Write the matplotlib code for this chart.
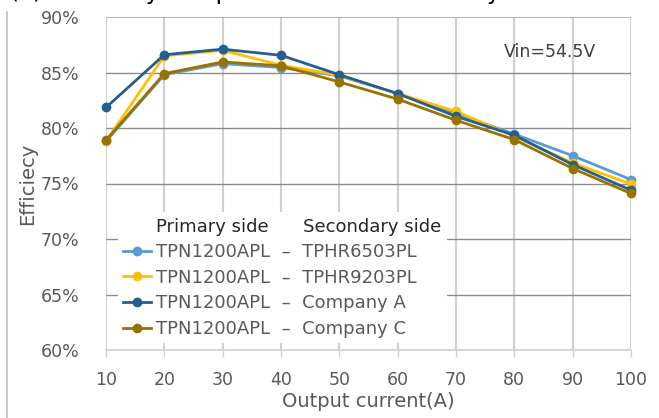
import matplotlib.pyplot as plt
from matplotlib.lines import Line2D
from matplotlib.ticker import FuncFormatter

plt.rcParams["font.family"] = ["DejaVu Sans"]

# Output current (A)
current = [10, 20, 30, 40, 50, 60, 70, 80, 90, 100]

# Efficiency (%) per secondary-side device
eff_tphr6503 = [78.8, 84.8, 85.8, 85.45, 84.7, 83.1, 81.3, 79.45, 77.5, 75.35]
eff_tphr9203 = [78.8, 86.5, 87.0, 85.65, 84.75, 83.1, 81.5, 79.25, 76.85, 74.95]
eff_company_a = [81.85, 86.6, 87.1, 86.55, 84.8, 83.1, 81.05, 79.35, 76.7, 74.4]
eff_company_c = [78.9, 84.9, 85.95, 85.6, 84.15, 82.6, 80.7, 78.95, 76.35, 74.1]

series_labels = ["TPN1200APL  \u2013  TPHR6503PL",
                 "TPN1200APL  \u2013  TPHR9203PL",
                 "TPN1200APL  \u2013  Company A",
                 "TPN1200APL  \u2013  Company C"]
colors = ["#5B9BD5", "#FFC000", "#255E91", "#997300"]

text_gray = "#595959"

fig = plt.figure(figsize=(6.59, 4.18), dpi=100)
ax = fig.add_axes([106 / 659, 1 - 350 / 418, 525 / 659, 333 / 418])

all_series = [eff_tphr6503, eff_tphr9203, eff_company_a, eff_company_c]
for vals, lab, c in zip(all_series, series_labels, colors):
    ax.plot(current, vals, color=c, lw=2, marker="o", markersize=6,
            label=lab, clip_on=False, zorder=3)

ax.set_xlim(10, 100)
ax.set_ylim(60, 90)
ax.set_xticks(current)
ax.set_yticks([60, 65, 70, 75, 80, 85, 90])
ax.yaxis.set_major_formatter(FuncFormatter(lambda v, p: "%d%%" % v))

# gridlines
for yv in [65, 70, 75, 80, 85]:
    ax.axhline(yv, color="#8C8C8C", lw=1, zorder=1)
ax.axhline(90, color="#A6A6A6", lw=1.2, zorder=1)
for xv in current:
    ax.axvline(xv, color="#D0D0D0", lw=1.5, zorder=0.5)

for s in ["top", "right", "left"]:
    ax.spines[s].set_visible(False)
ax.spines["bottom"].set_color("#D0D0D0")
ax.spines["bottom"].set_linewidth(1.2)

ax.tick_params(axis="y", length=0, pad=19, labelsize=12.5, labelcolor=text_gray)
ax.tick_params(axis="x", length=5, width=1, color="#D0D0D0", pad=10,
               labelsize=12.5, labelcolor=text_gray)

ax.set_xlabel("Output current(A)", fontsize=14, color=text_gray, labelpad=2)
ax.set_ylabel("Efficiecy", fontsize=14, color=text_gray, labelpad=3)

ax.text(0.846, 0.895, "Vin=54.5V", transform=ax.transAxes, fontsize=12.5,
        color="#404040", ha="center", va="center")

# legend with a header row
handles, labels = ax.get_legend_handles_labels()
header = Line2D([], [], color="none")
leg = ax.legend([header] + handles,
                ["Primary side      Secondary side"] + labels,
                loc="upper left", bbox_to_anchor=(0.023, 0.414),
                fontsize=13, frameon=True, facecolor="white", edgecolor="none",
                framealpha=1, fancybox=False, handlelength=1.5,
                handletextpad=0.3, labelspacing=0.42, borderpad=0.3,
                borderaxespad=0)
leg.set_zorder(5)
for i, t in enumerate(leg.get_texts()):
    t.set_color("#262626" if i == 0 else text_gray)

# cut-off caption from the source document and left page border
fig.text(10 / 659, 1 + 1 / 418, "(a) Efficiency comparison of the secondary side",
         fontsize=16.5, color="black", ha="left", va="baseline")
fig.add_artist(Line2D([7 / 659, 7 / 659], [0, 1 - 12 / 418], color="#BFBFBF", lw=1.2))

fig.savefig("out.png", dpi=100)
